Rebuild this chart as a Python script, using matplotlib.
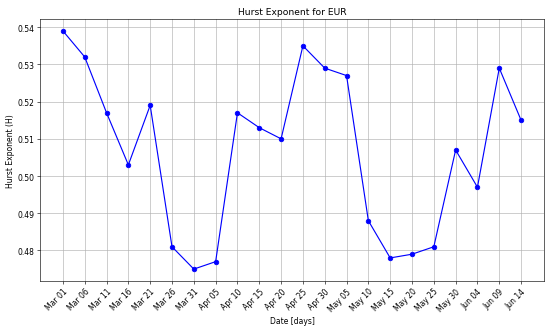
import matplotlib
matplotlib.use("Agg")
import matplotlib.pyplot as plt
import matplotlib.dates as mdates
import pandas as pd

dates = ["2024-03-01", "2024-03-06", "2024-03-11", "2024-03-16", "2024-03-21",
         "2024-03-26", "2024-03-31", "2024-04-05", "2024-04-10", "2024-04-15",
         "2024-04-20", "2024-04-25", "2024-04-30", "2024-05-05", "2024-05-10",
         "2024-05-15", "2024-05-20", "2024-05-25", "2024-05-30", "2024-06-04",
         "2024-06-09", "2024-06-14"]
hurst = [0.539, 0.532, 0.517, 0.503, 0.519, 0.481, 0.475, 0.477, 0.517, 0.513,
         0.510, 0.535, 0.529, 0.527, 0.488, 0.478, 0.479, 0.481, 0.507, 0.497,
         0.529, 0.515]

x = pd.to_datetime(dates)

fig = plt.figure(figsize=(10, 5.9636), dpi=55)
ax = fig.add_axes([40/550, 1-282/328, (544-40)/550, (282-20)/328])
ax.plot(x, hurst, marker='o', linestyle='-', color='b')
ax.set_title("Hurst Exponent for EUR")
ax.set_xlabel("Date [days]")
ax.set_ylabel("Hurst Exponent (H)")
ax.set_xticks(x)
ax.xaxis.set_major_formatter(mdates.DateFormatter('%b %d'))
plt.setp(ax.get_xticklabels(), rotation=45, ha='right', rotation_mode='anchor')
ax.grid(True)
fig.savefig("out.png", dpi=55)
